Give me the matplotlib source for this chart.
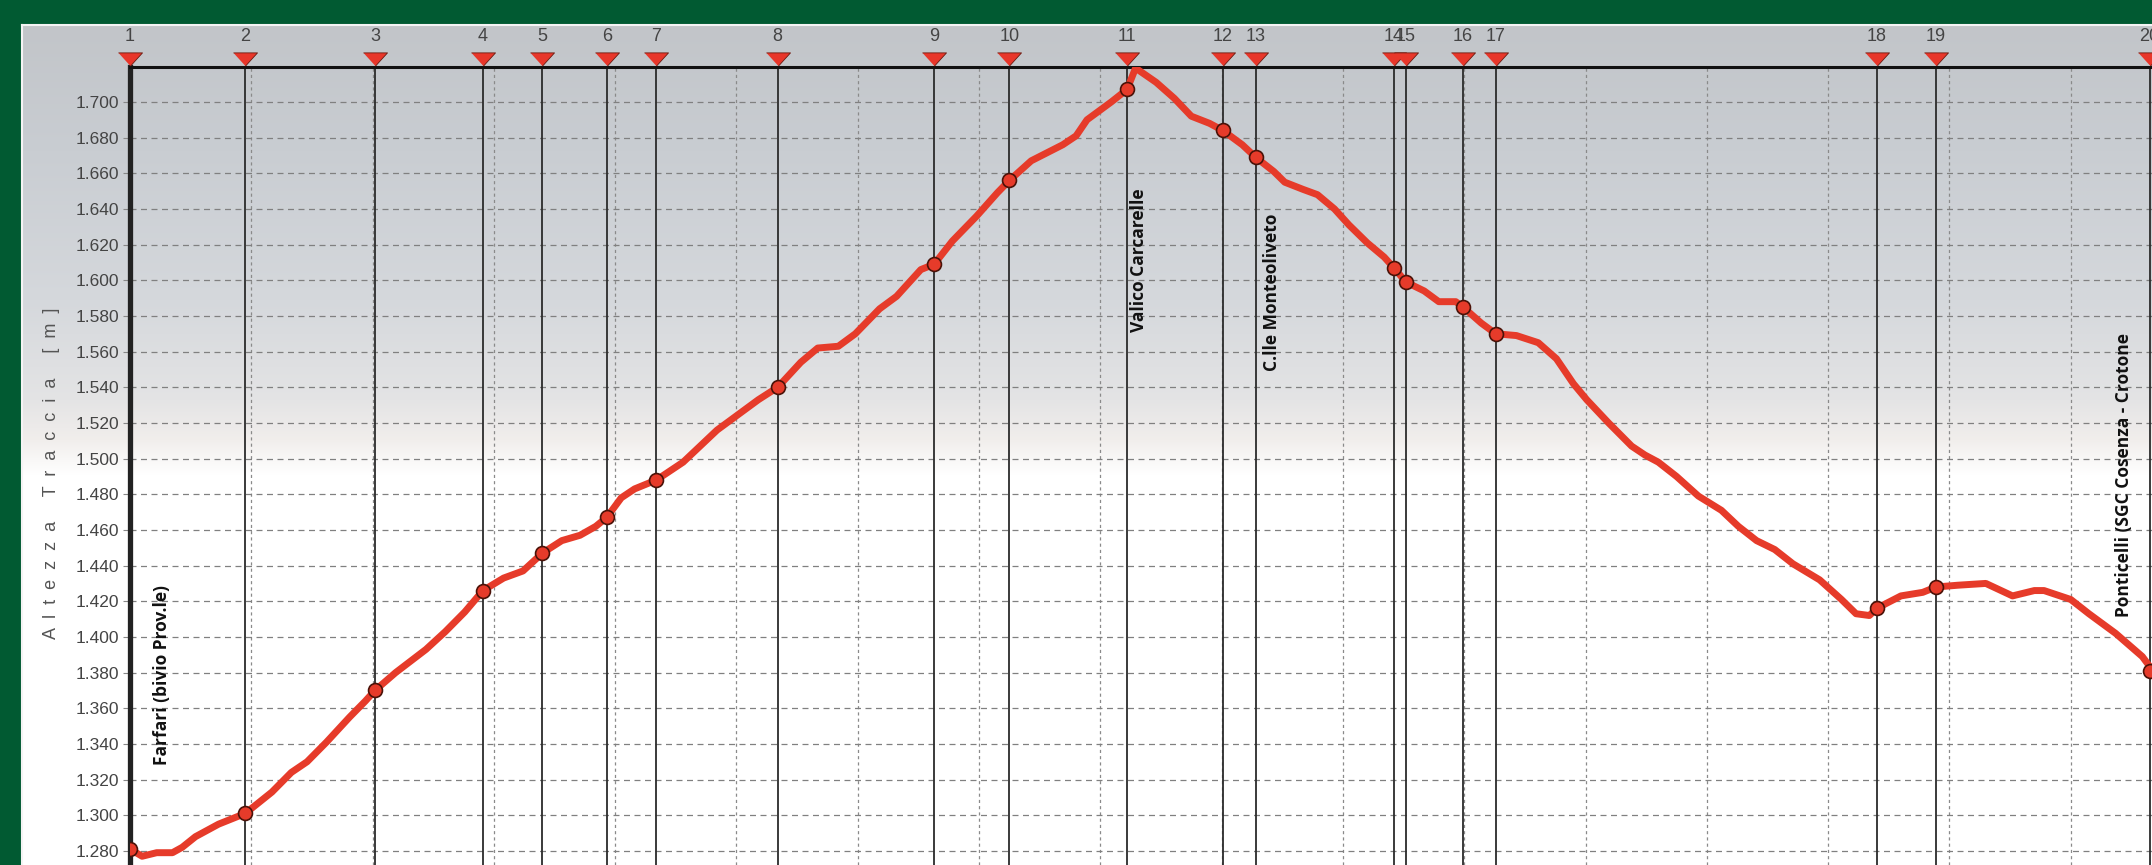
import numpy as np
import matplotlib.pyplot as plt
from matplotlib.ticker import FuncFormatter, MultipleLocator

# profilo altimetrico: distanza progressiva [km] e quota [m]
dist_km = [0.00, 0.10, 0.22, 0.35, 0.43, 0.54, 0.73, 0.95, 1.17, 1.33, 1.46, 1.62, 1.81, 1.94,
           2.02, 2.19, 2.44, 2.60, 2.76, 2.91, 3.08, 3.24, 3.40, 3.56, 3.71, 3.84, 3.93, 4.05,
           4.16, 4.34, 4.56, 4.84, 5.04, 5.18, 5.34, 5.53, 5.67, 5.84, 5.98, 6.18, 6.32, 6.52,
           6.63, 6.78, 6.98, 7.15, 7.25, 7.43, 7.69, 7.80, 7.89, 8.09, 8.22, 8.29, 8.46, 8.61,
           8.75, 8.90, 9.01, 9.17, 9.28, 9.43, 9.52, 9.67, 9.79, 9.93, 10.05, 10.20, 10.34,
           10.42, 10.52, 10.67, 10.79, 10.93, 10.99, 11.14, 11.26, 11.43, 11.61, 11.76, 11.90,
           12.01, 12.19, 12.38, 12.49, 12.60, 12.75, 12.93, 13.12, 13.26, 13.41, 13.56, 13.71,
           13.93, 14.11, 14.23, 14.34, 14.40, 14.60, 14.78, 14.89, 15.07, 15.30, 15.52, 15.70,
           15.78, 16.00, 16.15, 16.37, 16.59, 16.70]
quota_m = [1281, 1277, 1279, 1279, 1282, 1288, 1295, 1301, 1313, 1324, 1330, 1341, 1355, 1364,
           1370, 1380, 1393, 1403, 1414, 1426, 1433, 1437, 1447, 1454, 1457, 1462, 1467, 1478,
           1483, 1488, 1498, 1516, 1526, 1533, 1540, 1554, 1562, 1563, 1570, 1584, 1591, 1606,
           1609, 1622, 1636, 1649, 1656, 1667, 1676, 1681, 1690, 1700, 1707, 1719, 1711, 1702,
           1692, 1688, 1684, 1676, 1669, 1661, 1655, 1651, 1648, 1640, 1631, 1621, 1613,
           1607, 1599, 1594, 1588, 1588, 1585, 1576, 1570, 1569, 1565, 1556, 1542,
           1533, 1520, 1507, 1502, 1498, 1490, 1479, 1471, 1462, 1454, 1449, 1441,
           1432, 1421, 1413, 1412, 1416, 1423, 1425, 1428, 1429, 1430, 1423, 1426,
           1426, 1421, 1413, 1402, 1389, 1379]

# punti notevoli
wp_num = list(range(1, 21))
wp_km = [0.0, 0.95, 2.02, 2.91, 3.40, 3.93, 4.34, 5.34, 6.63, 7.25, 8.22, 9.01, 9.28,
         10.42, 10.52, 10.99, 11.26, 14.40, 14.89, 16.65]
wp_quota = [1281, 1301, 1370, 1426, 1447, 1467, 1488, 1540, 1609, 1656, 1707, 1684, 1669,
            1607, 1599, 1585, 1570, 1416, 1428, 1381]

# localita'
loc_names = ['Farfari (bivio Prov.le)', 'Valico Carcarelle', 'C.lle Monteoliveto',
             'Ponticelli (SGC Cosenza - Crotone']
loc_wp = [1, 11, 13, 20]

W, H = 2152, 865
fig = plt.figure(figsize=(W / 100, H / 100), dpi=100)
fig.patch.set_facecolor('#015a32')

# pannello grigio sfumato
bg = fig.add_axes([22 / W, 0, 1 - 22 / W, (H - 25) / H], zorder=-10)
py = np.linspace(25, H, 400)
stops_y = [25, 150, 300, 400, 440, 475, H]
stops_c = np.array([[194, 197, 201], [201, 205, 210], [213, 216, 220], [228, 228, 229],
                    [241, 238, 236], [255, 255, 255], [255, 255, 255]]) / 255
grad = np.stack([np.interp(py, stops_y, stops_c[:, k]) for k in range(3)], axis=-1)
bg.imshow(grad[:, None, :], aspect='auto', extent=[0, 1, 0, 1])
bg.set_xticks([])
bg.set_yticks([])
for s in ['right', 'bottom']:
    bg.spines[s].set_visible(False)
for s in ['top', 'left']:
    bg.spines[s].set_color('#f4f4f4')
    bg.spines[s].set_linewidth(1.5)

ax = fig.add_axes([130 / W, 0, 1 - 130 / W, (H - 67) / H])
ax.set_facecolor('none')
ax.set_xlim(0, 16.67)
ax.set_ylim(1272.1, 1719.6)

ax.yaxis.set_major_locator(MultipleLocator(20))
ax.xaxis.set_major_locator(MultipleLocator(1))
ax.yaxis.set_major_formatter(FuncFormatter(lambda v, p: f'{v:,.0f}'.replace(',', '.')))
ax.tick_params(axis='y', direction='out', length=5, color='#888888', labelsize=12.5,
               labelcolor='#444444', pad=3)
for lab in ax.get_yticklabels():
    lab.set_family('Liberation Sans')
ax.tick_params(axis='x', length=0, labelbottom=False)

ax.yaxis.grid(True, color='#808080', linewidth=0.9, dashes=(4.8, 3.6))
ax.xaxis.grid(True, color='#8a8a8a', linewidth=0.9, dashes=(2.5, 2.5))
ax.set_axisbelow(True)

for s in ['right', 'bottom']:
    ax.spines[s].set_visible(False)
ax.spines['top'].set_linewidth(2.2)
ax.spines['top'].set_color('#111111')
ax.spines['left'].set_linewidth(3.8)
ax.spines['left'].set_color('#222222')

# linee verticali dei punti notevoli
for x in wp_km:
    ax.axvline(x, color='#2b2b2b', linewidth=1.3, zorder=2)

# profilo
ax.plot(dist_km, quota_m, color='#e63b2a', linewidth=5, solid_joinstyle='round', zorder=3)
ax.plot(wp_km, wp_quota, linestyle='none', marker='o', markersize=10,
        markerfacecolor='#e63b2a', markeredgecolor='#4a1208', markeredgewidth=1.2, zorder=4)

# triangoli e numeri sopra l'asse
tri = [(-1, 0.55), (1, 0.55), (0, -0.55)]
trans = ax.get_xaxis_transform()
ax.plot(wp_km, [1.0094] * len(wp_km), transform=trans, linestyle='none', marker=tri,
        markersize=17.3, markerfacecolor='#e8362a', markeredgecolor='#6a1a10',
        markeredgewidth=0.6, clip_on=False, zorder=6)
for n, x in zip(wp_num, wp_km):
    ax.text(x, 1.0388, str(n), transform=trans, ha='center', va='center', fontsize=13,
            color='#444444', family='Liberation Sans', clip_on=False)

# nomi delle localita'
loc_dx = [23, 8.6, 11.5, -18.7]
loc_y = [1328, 1571, 1549, 1411]
for name, w, dx, y in zip(loc_names, loc_wp, loc_dx, loc_y):
    ax.annotate(name, xy=(wp_km[w - 1], y), xytext=(dx, 0), textcoords='offset points',
                rotation=90, ha='center', va='bottom', fontsize=12.5, fontweight='bold',
                family='Open Sans', color='#111111', zorder=5)

fig.text(52 / W, 1 - 473 / H, 'A  l  t  e  z  z  a     T  r  a  c  c  i  a     [  m  ]',
         rotation=90, ha='center', va='center', fontsize=13, color='#555555',
         family='Liberation Sans')

fig.savefig('out.png', dpi=100, facecolor=fig.get_facecolor())
